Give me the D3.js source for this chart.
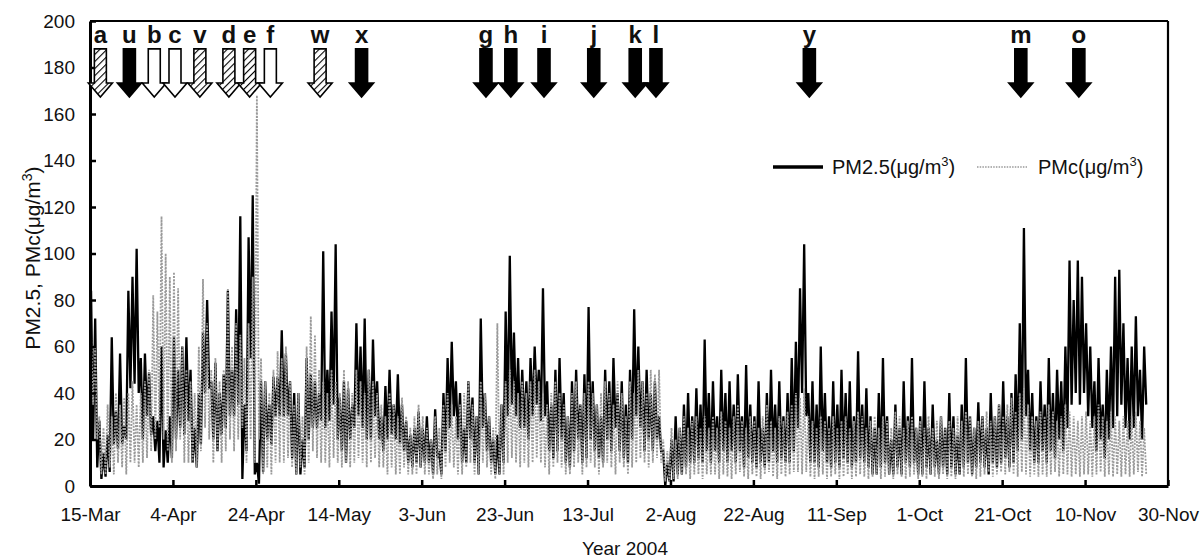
<!DOCTYPE html>
<html><head><meta charset="utf-8">
<script src="https://cdn.jsdelivr.net/npm/d3@7"></script>
<style>
body{margin:0;background:#fff;}
svg{display:block;font-family:"Liberation Sans",Arial,Helvetica,sans-serif;}
</style></head><body>
<svg id="c" width="1201" height="559"></svg>
<script>
// ---------------- data ----------------
const startDate = "2004-03-15";
const endDate = "2004-11-30";
const xTickLabels = ["15-Mar","4-Apr","24-Apr","14-May","3-Jun","23-Jun","13-Jul","2-Aug","22-Aug","11-Sep","1-Oct","21-Oct","10-Nov","30-Nov"];
const yTicks = [0,20,40,60,80,100,120,140,160,180,200];

// daily high / low of hourly PM2.5 (ug/m3), from 15-Mar
const pm25High = [
 84,72,28,14,22,64,32,57,26,84,
 90,102,55,57,49,30,28,60,24,30,
 64,50,60,64,50,25,40,66,80,45,
 53,40,48,84,50,76,116,35,107,125,
 10,45,45,35,47,47,67,57,45,40,
 40,20,55,48,45,40,101,50,75,104,
 38,45,42,35,70,60,72,50,63,45,
 30,43,50,35,48,35,28,22,25,32,
 25,30,20,33,15,40,55,62,45,40,
 25,45,38,30,72,40,30,20,22,35,
 75,99,66,55,50,45,55,60,50,85,
 45,35,50,55,40,30,45,50,35,48,
 77,45,35,30,50,45,55,40,45,35,
 50,76,60,45,50,40,45,30,15,10,
 20,30,25,35,40,30,42,35,63,40,
 45,30,50,40,45,35,48,30,52,35,
 30,45,25,40,50,35,45,30,40,55,
 62,85,104,40,45,35,60,40,30,45,
 35,50,40,45,30,58,35,42,30,25,
 40,55,30,20,35,25,45,30,55,25,
 30,45,25,35,20,30,25,40,30,22,
 35,55,30,25,36,30,25,40,30,35,
 45,30,40,48,70,111,50,40,30,45,
 35,55,40,50,45,60,97,80,97,90,
 70,60,45,55,35,50,60,90,93,70,
 55,60,73,50,60];
const pm25Low = [
 20,8,3,4,6,18,16,18,20,42,
 44,40,20,30,22,15,10,8,10,12,
 20,25,22,28,10,8,18,40,42,20,
 15,22,25,30,30,35,3,15,55,5,
 1,6,20,18,30,30,30,30,12,5,
 5,8,20,25,25,28,25,28,35,20,
 15,10,20,25,30,25,20,20,30,20,
 15,20,22,20,18,15,10,8,10,8,
 10,10,5,12,5,15,25,30,20,10,
 10,20,10,5,25,15,10,5,5,10,
 30,35,30,25,25,20,30,35,28,30,
 15,12,15,20,10,8,15,20,10,12,
 20,15,12,10,20,15,25,15,12,10,
 20,30,25,15,20,15,20,15,0,2,
 2,5,5,8,10,10,12,10,15,10,
 15,10,15,10,15,10,15,8,12,10,
 8,10,8,10,15,10,12,10,10,15,
 25,40,30,10,10,8,15,10,8,10,
 8,12,10,8,10,12,10,8,5,5,
 8,10,5,5,8,5,10,8,10,5,
 5,8,5,8,5,8,5,8,5,5,
 8,10,5,8,10,8,5,10,8,10,
 12,8,10,15,20,30,15,10,10,15,
 10,15,12,20,15,25,35,40,35,40,
 30,25,15,20,12,20,25,30,35,25,
 20,25,30,20,35];
// daily high / low of hourly PMc (ug/m3), from 15-Mar
const pmcHigh = [
 65,60,30,25,35,30,40,35,38,40,
 45,35,40,45,50,82,75,116,100,90,
 92,85,60,50,45,40,60,89,70,50,
 55,45,50,85,60,70,65,55,70,90,
 168,55,45,40,50,58,55,60,45,35,
 40,30,60,73,65,50,45,40,50,45,
 40,50,45,40,50,45,40,50,45,40,
 35,30,40,35,30,38,30,25,30,35,
 30,25,20,30,25,35,40,35,30,35,
 40,45,35,30,45,40,30,25,70,35,
 45,50,45,40,45,40,45,50,45,40,
 35,40,45,40,35,30,40,45,35,40,
 45,40,35,40,45,40,35,45,40,30,
 45,40,50,45,40,50,48,50,20,15,
 25,20,25,30,25,28,30,25,30,25,
 30,25,32,28,25,30,35,28,25,30,
 28,25,30,35,28,25,30,28,32,35,
 40,38,42,30,28,25,30,28,25,30,
 25,28,30,25,28,32,30,25,28,30,
 25,30,28,25,32,30,25,28,30,25,
 28,25,30,25,28,30,25,28,25,30,
 28,32,30,25,28,30,32,28,30,35,
 30,35,38,32,40,42,35,30,28,32,
 30,35,32,28,30,35,32,30,28,30,
 32,28,30,35,30,28,32,30,28,30,
 28,30,32,28,25];
const pmcLow = [
 35,20,5,5,8,5,10,8,5,10,
 10,8,10,12,15,20,25,20,15,10,
 15,20,10,10,10,8,15,25,20,10,
 15,10,15,20,15,20,25,10,20,10,
 20,5,8,5,10,10,10,12,8,5,
 8,5,10,15,12,10,10,8,12,10,
 8,10,8,10,12,10,8,10,12,8,
 8,5,8,5,5,8,5,5,5,8,
 5,5,3,5,3,8,10,8,5,5,
 8,10,5,5,10,8,5,3,5,5,
 10,12,10,8,10,8,10,12,10,8,
 5,8,10,8,5,5,8,10,5,8,
 10,8,5,8,10,8,5,10,8,5,
 8,10,12,10,8,10,12,10,2,2,
 3,3,5,5,3,5,5,3,5,5,
 5,3,5,4,3,5,6,4,3,5,
 4,3,5,6,4,3,5,4,5,6,
 6,5,6,4,3,4,5,3,4,5,
 3,4,5,3,4,5,4,3,4,5,
 3,4,5,3,5,4,3,4,5,3,
 4,3,5,4,3,5,3,4,3,5,
 4,5,4,3,4,5,6,4,5,6,
 5,6,5,4,6,5,4,5,4,5,
 4,5,6,4,5,5,4,5,4,5,
 5,4,5,6,4,5,4,5,4,5,
 4,5,6,4,5];

// episode arrows
const arrowLabels = ["a","u","b","c","v","d","e","f","w","x","g","h","i","j","k","l","y","m","o"];
const arrowDates = ["2004-03-17","2004-03-24","2004-03-30","2004-04-04","2004-04-10","2004-04-17","2004-04-22","2004-04-27","2004-05-09","2004-05-19",
  "2004-06-18","2004-06-24","2004-07-02","2004-07-14","2004-07-24","2004-07-29","2004-09-04","2004-10-25","2004-11-08"];
const arrowTypes = ["hatch","black","white","white","hatch","hatch","hatch","white","hatch","black",
  "black","black","black","black","black","black","black","black","black"];

// ---------------- chart ----------------
const svg = d3.select("#c");
const parse = d3.utcParse("%Y-%m-%d");
const t0 = parse(startDate), t1 = parse(endDate);
const x = d3.scaleUtc().domain([t0, t1]).range([90, 1168]);
const y = d3.scaleLinear().domain([0, 200]).range([486, 21]);

const defs = svg.append("defs");
const pat = defs.append("pattern").attr("id","hatch").attr("patternUnits","userSpaceOnUse")
  .attr("width",5).attr("height",5).attr("patternTransform","rotate(45)");
pat.append("rect").attr("width",5).attr("height",5).attr("fill","#fff");
pat.append("line").attr("x1",0).attr("y1",0).attr("x2",0).attr("y2",5).attr("stroke","#000").attr("stroke-width",2.2);

function series(hi, lo){
  const pts = [];
  hi.forEach((h,i)=>{
    const day = d3.utcDay.offset(t0, i);
    pts.push({t: d3.utcHour.offset(day, 6), v: h});
    pts.push({t: d3.utcHour.offset(day, 18), v: lo[i]});
  });
  return pts;
}
const line = d3.line().x(d=>x(d.t)).y(d=>y(d.v));

svg.append("path").datum(series(pm25High, pm25Low)).attr("d", line)
  .attr("fill","none").attr("stroke","#000").attr("stroke-width",2.3).attr("stroke-linejoin","miter");
svg.append("path").datum(series(pmcHigh, pmcLow)).attr("d", line)
  .attr("fill","none").attr("stroke","#9a9a9a").attr("stroke-width",1.8).attr("stroke-dasharray","2,1.3");

// frame
svg.append("line").attr("x1",90).attr("x2",1168).attr("y1",21).attr("y2",21).attr("stroke","#000").attr("stroke-width",2.2);
svg.append("line").attr("x1",1168).attr("x2",1168).attr("y1",21).attr("y2",486).attr("stroke","#000").attr("stroke-width",2.2);

// axes
const fs = 19;
const yAxis = svg.append("g").attr("transform","translate(90,0)")
  .call(d3.axisLeft(y).tickValues(yTicks).tickSizeInner(-6).tickSizeOuter(0).tickPadding(15));
const xTickDates = xTickLabels.map((s,i)=>d3.utcDay.offset(t0, i*20));
const xAxis = svg.append("g").attr("transform","translate(0,486)")
  .call(d3.axisBottom(x).tickValues(xTickDates).tickFormat((d,i)=>xTickLabels[i]).tickSizeInner(-6).tickSizeOuter(0).tickPadding(22));
[yAxis, xAxis].forEach(g=>{
  g.select(".domain").attr("stroke","#000").attr("stroke-width",3);
  g.selectAll(".tick line").attr("stroke","#000").attr("stroke-width",2.5);
  g.selectAll(".tick text").attr("font-size",fs).attr("fill","#111").attr("font-family","Liberation Sans, Arial, sans-serif");
});

// axis titles
svg.append("text").attr("x",625).attr("y",555).attr("text-anchor","middle").attr("font-size",fs).attr("fill","#111").text("Year 2004");
const yl = svg.append("text").attr("transform","translate(40,258) rotate(-90)").attr("text-anchor","middle").attr("font-size",21).attr("fill","#111");
yl.append("tspan").text("PM2.5, PMc(\u03bcg/m");
yl.append("tspan").attr("dy",-8).attr("font-size",14).text("3");
yl.append("tspan").attr("dy",8).text(")");

// arrows
const aTop = y(188), aTip = y(167.3), headLen = 14, sw = 6, hw = 12;
const ag = svg.append("g");
arrowDates.forEach((ds,i)=>{
  const cx = x(d3.utcHour.offset(parse(ds), 12));
  const p = `M${cx-sw},${aTop}L${cx+sw},${aTop}L${cx+sw},${aTip-headLen}L${cx+hw},${aTip-headLen}L${cx},${aTip}L${cx-hw},${aTip-headLen}L${cx-sw},${aTip-headLen}Z`;
  const type = arrowTypes[i];
  ag.append("path").attr("d",p)
    .attr("fill", type==="black" ? "#000" : type==="white" ? "#fff" : "url(#hatch)")
    .attr("stroke","#000").attr("stroke-width",1.6).attr("stroke-linejoin","miter");
  ag.append("text").attr("x",cx).attr("y",y(190.6)).attr("text-anchor","middle")
    .attr("font-size",24).attr("font-weight","bold").attr("fill","#111").text(arrowLabels[i]);
});

// legend
const lfs = 20;
const lg = svg.append("g");
lg.append("line").attr("x1",773).attr("x2",823).attr("y1",167).attr("y2",167).attr("stroke","#000").attr("stroke-width",3.5);
const t1t = lg.append("text").attr("x",832).attr("y",174).attr("font-size",lfs).attr("fill","#111");
t1t.append("tspan").text("PM2.5(\u03bcg/m");
t1t.append("tspan").attr("dy",-8).attr("font-size",13).text("3");
t1t.append("tspan").attr("dy",8).text(")");
lg.append("line").attr("x1",977).attr("x2",1027).attr("y1",167).attr("y2",167).attr("stroke","#999").attr("stroke-width",1.5).attr("stroke-dasharray","1.5,1.2");
const t2t = lg.append("text").attr("x",1038).attr("y",174).attr("font-size",lfs).attr("fill","#111");
t2t.append("tspan").text("PMc(\u03bcg/m");
t2t.append("tspan").attr("dy",-8).attr("font-size",13).text("3");
t2t.append("tspan").attr("dy",8).text(")");
</script>
</body></html>
